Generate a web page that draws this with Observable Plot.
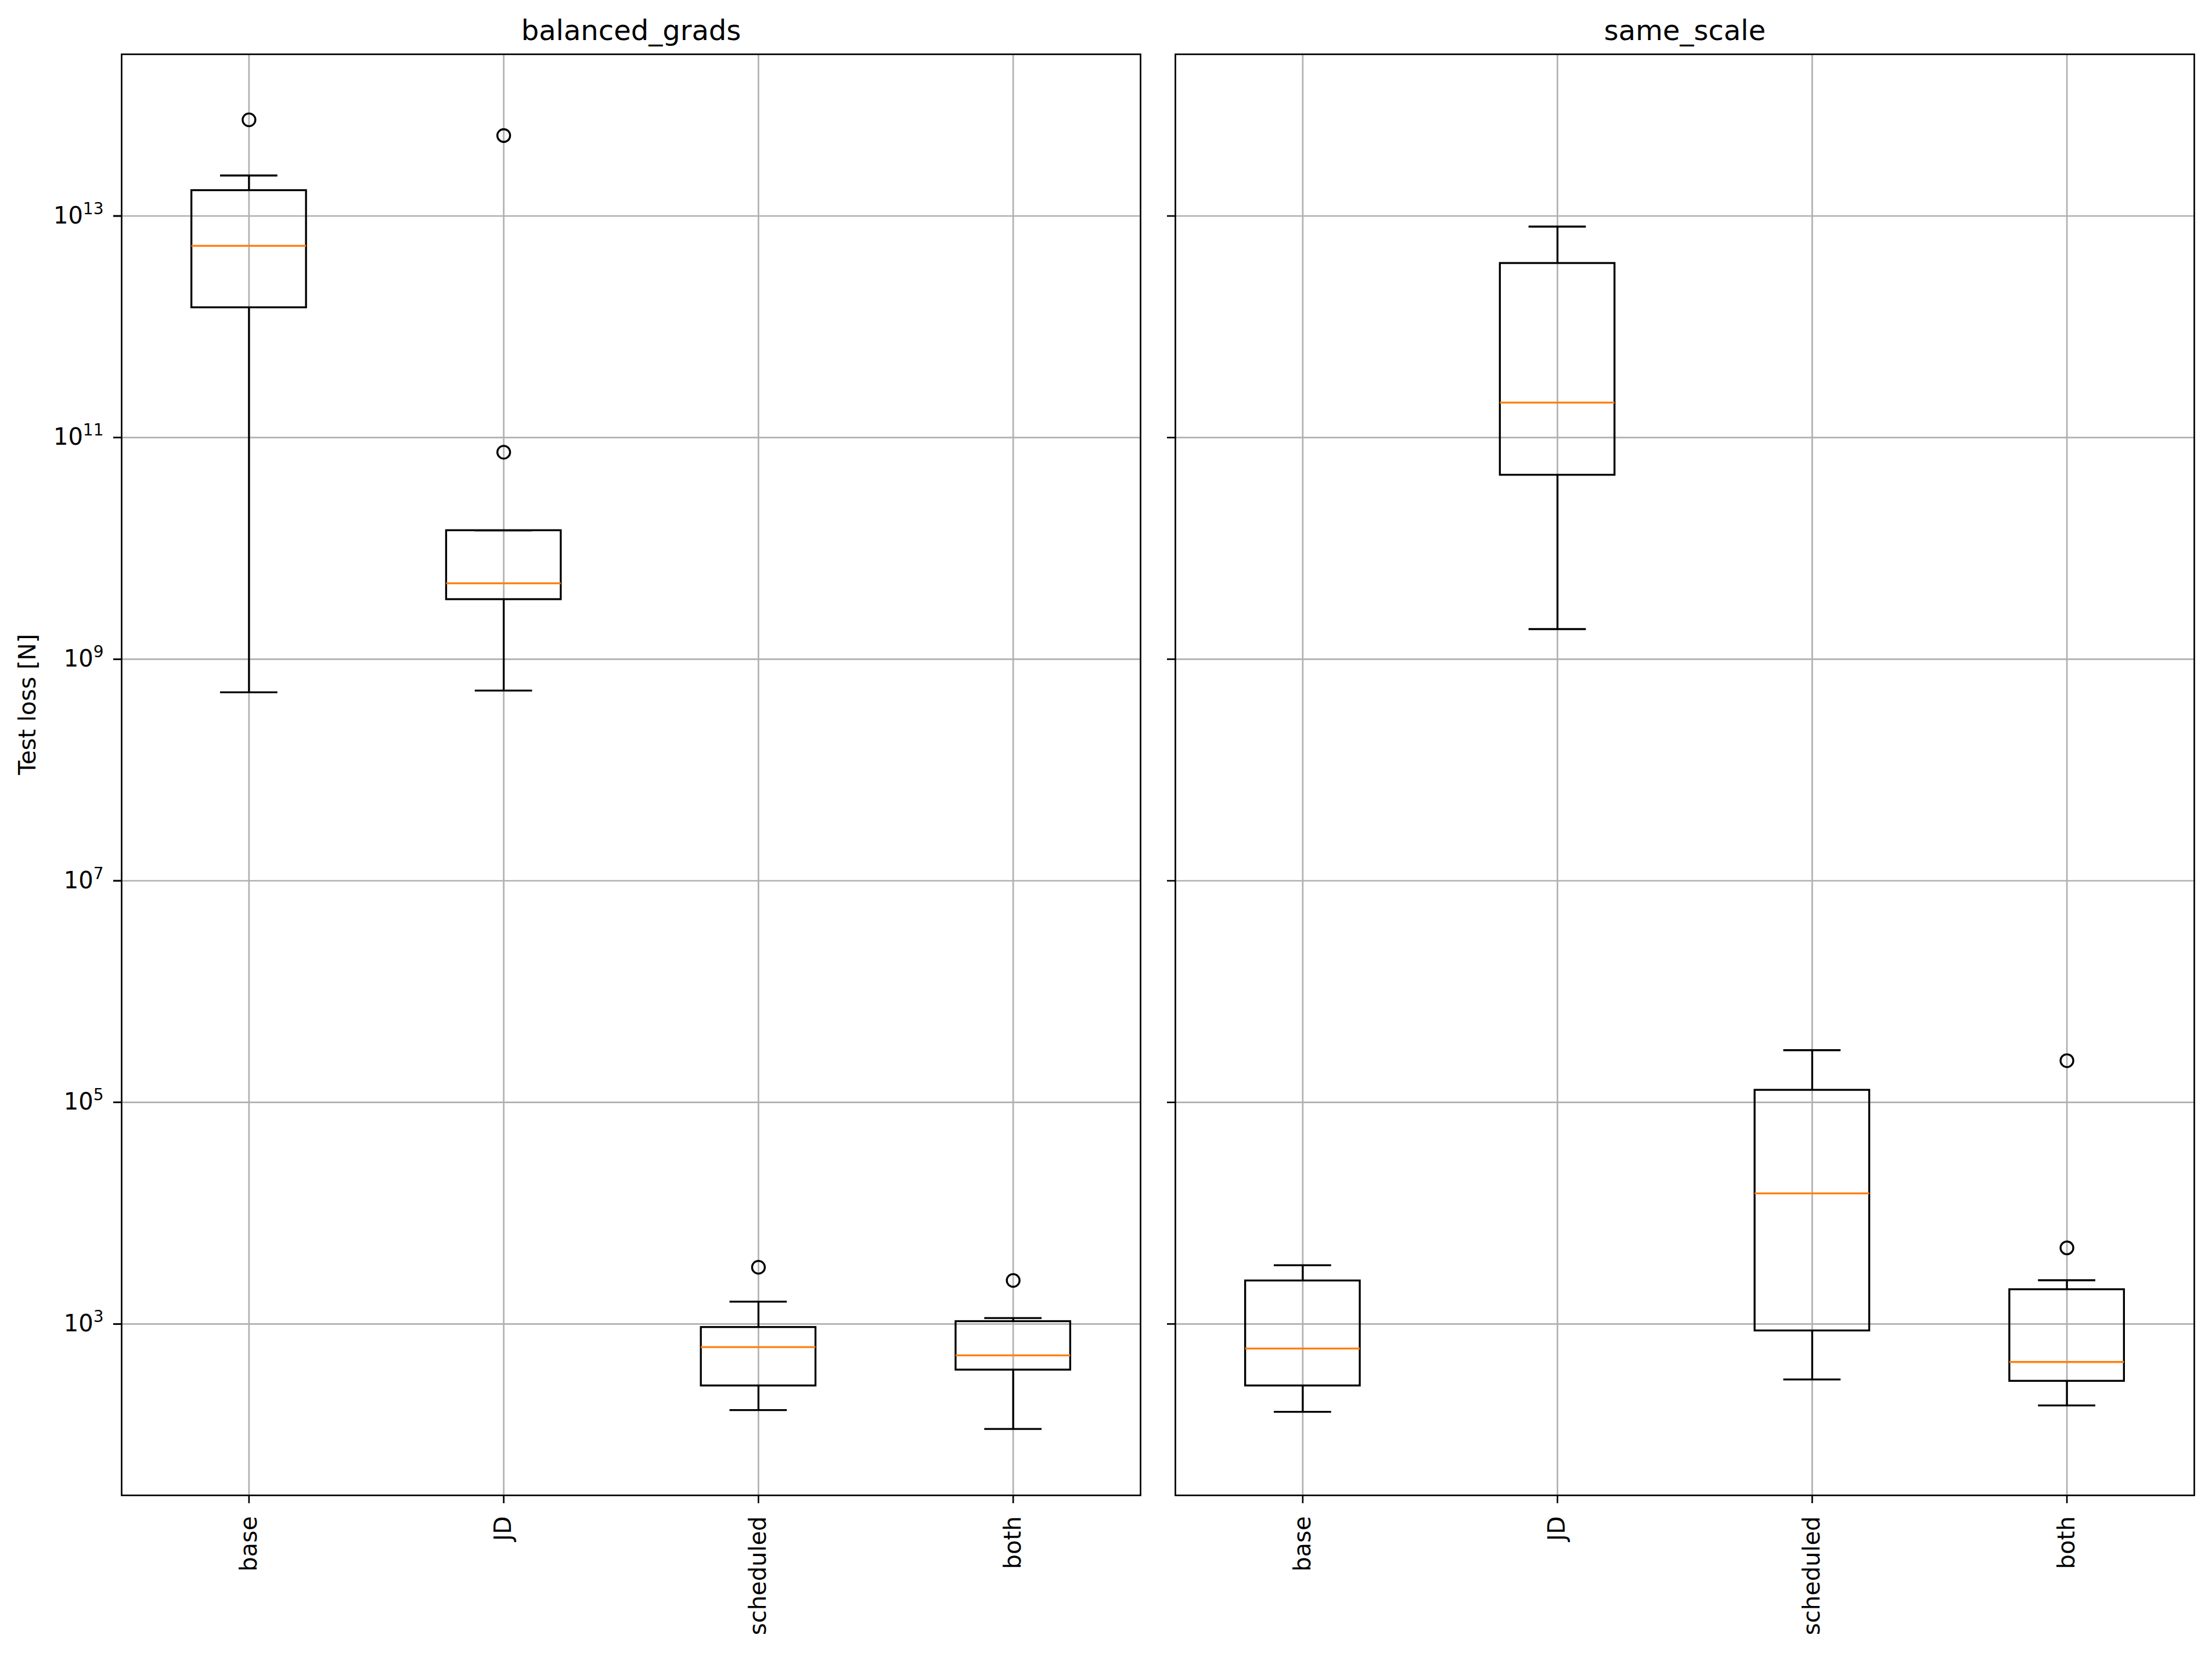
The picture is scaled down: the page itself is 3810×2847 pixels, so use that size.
<!DOCTYPE html>
<html>
<head>
<meta charset="utf-8">
<script src="https://cdn.jsdelivr.net/npm/d3@7"></script>
<script src="https://cdn.jsdelivr.net/npm/@observablehq/plot@0.6"></script>
<style>
html, body { margin: 0; padding: 0; background: #fff; }
</style>
</head>
<body>
<div id="chart"></div>
<script>
// ---- Data ----
const panels = ["balanced_grads", "same_scale"];
const categories = ["base", "JD", "scheduled", "both"];

const boxPanel = ["balanced_grads", "balanced_grads", "balanced_grads", "balanced_grads",
                  "same_scale", "same_scale", "same_scale", "same_scale"];
const boxCategory = ["base", "JD", "scheduled", "both", "base", "JD", "scheduled", "both"];
const whiskerLow  = [5.02e8, 5.21e8, 167, 113, 161, 1.87e9, 316, 184];
const quartile1   = [1.49e12, 3.46e9, 277, 385, 277, 4.59e10, 869, 305];
const median      = [5.38e12, 4.84e9, 619, 521, 600, 2.07e11, 15100, 454];
const quartile3   = [1.70e13, 1.45e10, 933, 1054, 2455, 3.74e12, 1.29e5, 2046];
const whiskerHigh = [2.32e13, 1.45e10, 1589, 1132, 3388, 8.02e12, 2.96e5, 2483];

const outlierPanel    = ["balanced_grads", "balanced_grads", "balanced_grads", "balanced_grads",
                         "balanced_grads", "same_scale", "same_scale"];
const outlierCategory = ["base", "JD", "JD", "scheduled", "both", "both", "both"];
const outlierValue    = [7.38e13, 5.32e13, 7.38e10, 3251, 2472, 2.38e5, 4864];

const yTicks = [1e3, 1e5, 1e7, 1e9, 1e11, 1e13];
const yDomain = [28.4, 2.88e14];
const yLabel = "Test loss [N]";

// ---- Build tables ----
const boxes = boxPanel.map((p, i) => ({
  panel: p,
  pos: categories.indexOf(boxCategory[i]) + 1,
  lo: whiskerLow[i], q1: quartile1[i], med: median[i], q3: quartile3[i], hi: whiskerHigh[i]
}));
const outliers = outlierPanel.map((p, i) => ({
  panel: p,
  pos: categories.indexOf(outlierCategory[i]) + 1,
  value: outlierValue[i]
}));

const boxHalf = 0.225;   // box width 0.45
const capHalf = 0.1125;  // caps half the box width

const supMap = {"0":"⁰","1":"¹","2":"²","3":"³","4":"⁴","5":"⁵","6":"⁶","7":"⁷","8":"⁸","9":"⁹","-":"⁻"};
const invSup = Object.fromEntries(Object.entries(supMap).map(([k, v]) => [v, k]));
const fmtPow = d => "10" + String(Math.round(Math.log10(d))).split("").map(c => supMap[c]).join("");

const LW = 3.33, SW = 2.67;

const chart = Plot.plot({
  width: 3810,
  height: 2847,
  marginLeft: 209,
  marginRight: 31,
  marginTop: 93,
  marginBottom: 272,
  style: {fontFamily: "'DejaVu Sans', sans-serif", fontSize: "40px", background: "white", color: "black"},
  fx: {domain: panels, paddingInner: 0.03306, paddingOuter: 0, axis: null, label: null, round: false},
  x: {type: "linear", domain: [0.5, 4.5]},
  y: {type: "log", domain: yDomain},
  marks: [
    Plot.gridX([1, 2, 3, 4], {stroke: "#b0b0b0", strokeOpacity: 1, strokeWidth: SW}),
    Plot.gridY(yTicks, {stroke: "#b0b0b0", strokeOpacity: 1, strokeWidth: SW}),
    Plot.ruleX(boxes, {fx: "panel", x: "pos", y1: "lo", y2: "q1", stroke: "black", strokeWidth: LW}),
    Plot.ruleX(boxes, {fx: "panel", x: "pos", y1: "q3", y2: "hi", stroke: "black", strokeWidth: LW}),
    Plot.ruleY(boxes, {fx: "panel", y: "lo", x1: d => d.pos - capHalf, x2: d => d.pos + capHalf, stroke: "black", strokeWidth: LW}),
    Plot.ruleY(boxes, {fx: "panel", y: "hi", x1: d => d.pos - capHalf, x2: d => d.pos + capHalf, stroke: "black", strokeWidth: LW}),
    Plot.rect(boxes, {fx: "panel", x1: d => d.pos - boxHalf, x2: d => d.pos + boxHalf, y1: "q1", y2: "q3",
                      fill: "none", stroke: "black", strokeWidth: LW}),
    Plot.ruleY(boxes, {fx: "panel", y: "med", x1: d => d.pos - boxHalf, x2: d => d.pos + boxHalf,
                       stroke: "#ff7f0e", strokeWidth: LW}),
    Plot.dot(outliers, {fx: "panel", x: "pos", y: "value", r: 11, stroke: "black", strokeWidth: LW, fill: "none"}),
    Plot.frame({stroke: "black", strokeWidth: SW}),
    Plot.axisX([1, 2, 3, 4], {tickFormat: d => categories[d - 1], tickRotate: -90, tickSize: 14, tickPadding: 22,
                              fontSize: 40, strokeWidth: SW, label: null}),
    Plot.axisY(yTicks, {tickFormat: fmtPow, tickSize: 14, tickPadding: 17, fontSize: 40, strokeWidth: SW, label: null}),
    Plot.axisY(yTicks, {tickSize: 14, fill: "none", strokeWidth: SW, label: null, facetAnchor: null}),
    Plot.text(panels, {fx: d => d, text: d => d, frameAnchor: "top", lineAnchor: "bottom", dy: -25, fontSize: 48}),
    Plot.text([yLabel], {fx: () => panels[0], text: d => d, frameAnchor: "left", dx: -161, rotate: -90, fontSize: 40})
  ]
});

// Render the exponent as a raised, smaller superscript (like matplotlib mathtext)
const NS = "http://www.w3.org/2000/svg";
chart.querySelectorAll('g[aria-label="y-axis tick label"] text').forEach(t => {
  const s = t.textContent;
  if (!s.startsWith("10") || s.length <= 2) return;
  const exp = s.slice(2).split("").map(c => invSup[c] ?? c).join("");
  t.textContent = "";
  const base = document.createElementNS(NS, "tspan");
  base.textContent = "10";
  const sup = document.createElementNS(NS, "tspan");
  sup.textContent = exp;
  sup.setAttribute("font-size", "28");
  sup.setAttribute("dy", "-16");
  t.append(base, sup);
});

document.getElementById("chart").appendChild(chart);
</script>
</body>
</html>
